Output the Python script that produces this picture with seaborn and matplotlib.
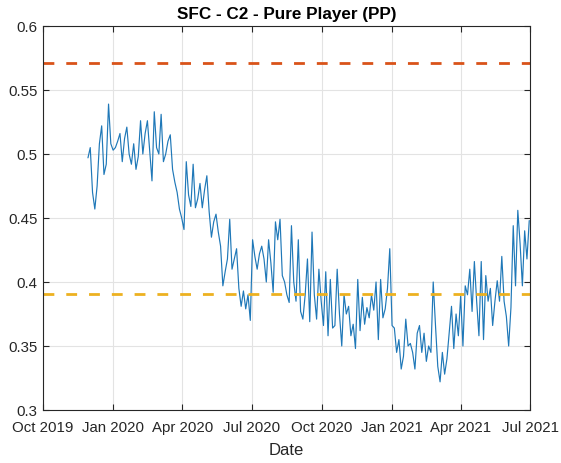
import matplotlib
matplotlib.use("Agg")
import matplotlib.pyplot as plt
import matplotlib.dates as mdates
import matplotlib.ticker as mticker
import numpy as np
import pandas as pd
import seaborn as sns

# ---- data ----
start_date = "2019-11-29"
step_days = 3
values = [
    0.497, 0.505, 0.470, 0.457, 0.475, 0.508, 0.522, 0.484, 0.492, 0.539,
    0.508, 0.503, 0.505, 0.510, 0.516, 0.494, 0.512, 0.521, 0.500, 0.492,
    0.508, 0.488, 0.498, 0.526, 0.500, 0.516, 0.526, 0.502, 0.479, 0.533,
    0.505, 0.500, 0.531, 0.494, 0.500, 0.510, 0.515, 0.488, 0.478, 0.470,
    0.457, 0.450, 0.441, 0.494, 0.468, 0.459, 0.492, 0.458, 0.465, 0.477,
    0.458, 0.472, 0.483, 0.455, 0.435, 0.447, 0.453, 0.439, 0.428, 0.397,
    0.408, 0.418, 0.449, 0.410, 0.418, 0.426, 0.395, 0.381, 0.393, 0.379,
    0.390, 0.370, 0.433, 0.420, 0.410, 0.422, 0.428, 0.418, 0.400, 0.433,
    0.415, 0.392, 0.447, 0.433, 0.449, 0.405, 0.400, 0.390, 0.384, 0.444,
    0.400, 0.385, 0.433, 0.377, 0.371, 0.390, 0.418, 0.369, 0.439, 0.390,
    0.371, 0.410, 0.385, 0.366, 0.408, 0.358, 0.402, 0.364, 0.366, 0.410,
    0.375, 0.350, 0.390, 0.375, 0.381, 0.358, 0.367, 0.348, 0.402, 0.362,
    0.388, 0.367, 0.380, 0.372, 0.390, 0.378, 0.400, 0.355, 0.402, 0.372,
    0.379, 0.395, 0.426, 0.366, 0.364, 0.345, 0.355, 0.332, 0.342, 0.371,
    0.350, 0.352, 0.345, 0.332, 0.360, 0.366, 0.345, 0.360, 0.338, 0.350,
    0.345, 0.400, 0.366, 0.334, 0.322, 0.345, 0.328, 0.340, 0.361, 0.381,
    0.348, 0.375, 0.358, 0.389, 0.350, 0.397, 0.390, 0.410, 0.377, 0.416,
    0.385, 0.358, 0.416, 0.355, 0.405, 0.385, 0.395, 0.366, 0.385, 0.401,
    0.385, 0.420, 0.385, 0.373, 0.350, 0.380, 0.444, 0.397, 0.456, 0.430,
    0.397, 0.440, 0.418, 0.448,
]
upper_threshold = 0.571
lower_threshold = 0.391
title = "SFC - C2 - Pure Player (PP)"
x_label = "Date"
x_range = ["2019-10-01", "2021-07-01"]
tick_dates = ["2019-10-01", "2020-01-01", "2020-04-01", "2020-07-01",
              "2020-10-01", "2021-01-01", "2021-04-01", "2021-07-01"]
y_ticks = [0.3, 0.35, 0.4, 0.45, 0.5, 0.55, 0.6]

dates = pd.date_range(start=start_date, periods=len(values), freq=f"{step_days}D")
df = pd.DataFrame({"Date": dates, "Value": values})

# ---- style ----
sns.set_theme(style="white")
plt.rcParams["font.family"] = ["Liberation Sans", "DejaVu Sans"]
text_col = "#262626"

fig = plt.figure(figsize=(5.61, 4.64), dpi=100)
ax = fig.add_axes([43 / 561, 1 - 411 / 464, (530 - 43) / 561, (411 - 27) / 464])

sns.lineplot(data=df, x="Date", y="Value", ax=ax, color="#1f78b8", linewidth=0.85)
ax.axhline(upper_threshold, color="#D95319", linewidth=2.0, dashes=(3.9, 4.3))
ax.axhline(lower_threshold, color="#EDB120", linewidth=2.0, dashes=(3.9, 4.3))

ax.set_xlim(pd.Timestamp(x_range[0]), pd.Timestamp(x_range[1]))
ax.set_ylim(y_ticks[0], y_ticks[-1])
ax.set_xticks([pd.Timestamp(d) for d in tick_dates])
ax.xaxis.set_major_formatter(mdates.DateFormatter("%b %Y"))
ax.set_yticks(y_ticks)
ax.yaxis.set_major_formatter(mticker.FormatStrFormatter("%g"))

ax.grid(True, color="#e3e3e3", linewidth=0.8)
ax.set_axisbelow(True)
for s in ax.spines.values():
    s.set_color(text_col)
    s.set_linewidth(0.8)
ax.tick_params(axis="both", which="major", direction="in", length=4, width=0.8,
               color=text_col, labelcolor=text_col, labelsize=10.8,
               top=True, right=True, bottom=True, left=True)
ax.tick_params(axis="x", pad=7)
ax.tick_params(axis="y", pad=4)

ax.set_title(title, fontsize=12.3, fontweight="bold", color="black", pad=6)
ax.set_xlabel(x_label, fontsize=12, color=text_col, labelpad=6)
ax.set_ylabel("")

fig.savefig("out.png", dpi=100)
